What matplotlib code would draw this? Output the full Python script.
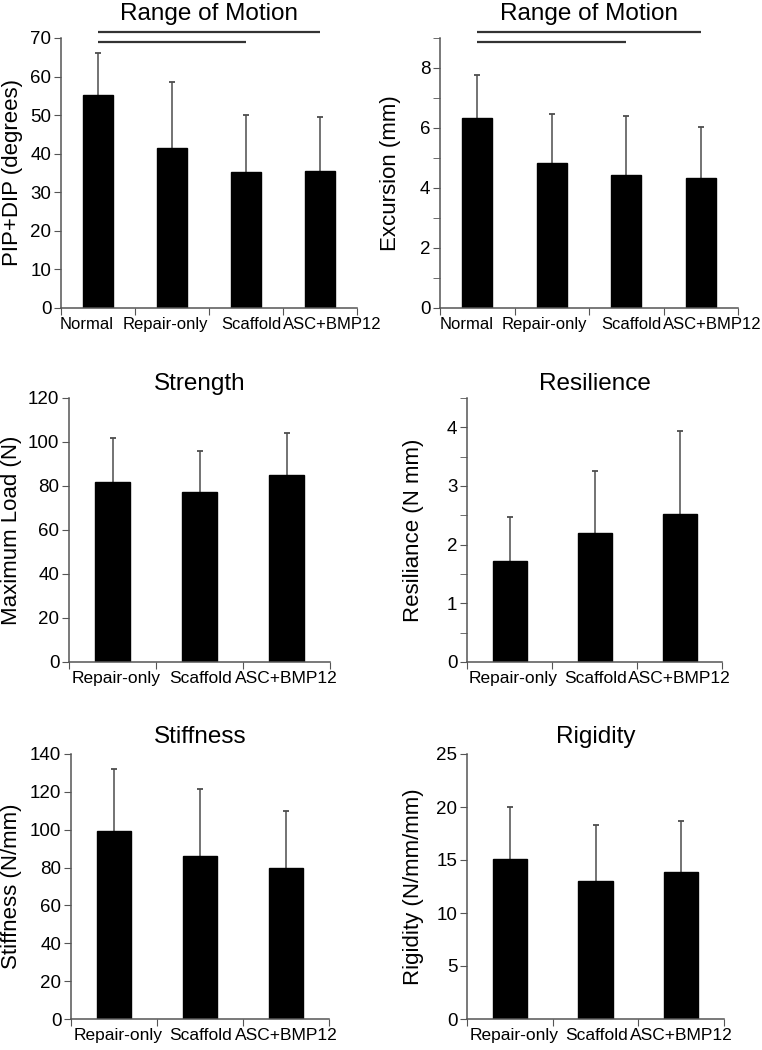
import matplotlib

matplotlib.use("Agg")

import matplotlib.pyplot as plt
from matplotlib.transforms import ScaledTranslation
from matplotlib.ticker import MultipleLocator


FIG_W = 762
FIG_H = 1050
DPI = 100

AXIS_GREY = "#555555"
ERR_GREY = "#4d4d4d"

rom_groups = ["Normal", "Repair-only", "Scaffold", "ASC+BMP12"]
treat_groups = ["Repair-only", "Scaffold", "ASC+BMP12"]

pip_dip_mean = [55.2, 41.4, 35.2, 35.6]
pip_dip_err = [10.8, 17.1, 14.8, 13.9]

excursion_mean = [6.35, 4.84, 4.42, 4.34]
excursion_err = [1.42, 1.62, 1.98, 1.70]

max_load_mean = [81.9, 77.4, 84.8]
max_load_err = [20.1, 18.6, 19.2]

resilience_mean = [1.72, 2.20, 2.53]
resilience_err = [0.76, 1.05, 1.41]

stiffness_mean = [99.3, 86.3, 79.9]
stiffness_err = [32.8, 35.2, 30.2]

rigidity_mean = [15.06, 13.0, 13.9]
rigidity_err = [4.9, 5.27, 4.78]

# significance brackets: (from group, to group, height in data units)
pip_dip_brackets = [(0, 3, 71.6), (0, 2, 69.0)]
excursion_brackets = [(0, 3, 9.2), (0, 2, 8.87)]

# horizontal nudges (pixels) so the crowded group names do not collide
rom_label_shift = [-11, -7, 5, 12]
treat_label_shift = [4, 1, 0]

plt.rcParams["font.family"] = ["Liberation Sans", "DejaVu Sans"]


def place_axes(fig, left, right, top, bottom):
	# pixel box -> figure fraction
	return fig.add_axes(
		[
			left / FIG_W,
			1 - bottom / FIG_H,
			(right - left) / FIG_W,
			(bottom - top) / FIG_H,
		]
	)


def bar_panel(
	ax,
	groups,
	means,
	errs,
	title,
	ylabel,
	ymax,
	major,
	minor=None,
	title_pad=6,
	label_x=-0.15,
	label_size=12,
	label_shift=None,
):
	positions = list(range(len(groups)))
	tops = [m + e for m, e in zip(means, errs)]

	ax.vlines(
		positions,
		means,
		tops,
		color=ERR_GREY,
		linewidth=1.1,
		zorder=1,
	)
	ax.plot(
		positions,
		tops,
		linestyle="none",
		marker="_",
		markersize=5,
		markeredgewidth=1.3,
		color=ERR_GREY,
		zorder=1,
	)

	ax.bar(
		positions,
		means,
		width=0.4,
		color="black",
		edgecolor="black",
		zorder=2,
	)

	ax.set_xlim(-0.5, len(groups) - 0.5)
	ax.set_ylim(0, ymax)

	ax.set_xticks([p - 0.5 for p in range(len(groups) + 1)])
	ax.set_xticklabels([])
	ax.tick_params(axis="x", which="major", length=5, color=AXIS_GREY, direction="out")

	# group names as text under each bar, nudged where they crowd
	if label_shift is None:
		label_shift = [0] * len(groups)
	for pos, name, dx in zip(positions, groups, label_shift):
		ax.text(
			pos,
			0,
			name,
			fontsize=label_size,
			ha="center",
			va="top",
			transform=ax.get_xaxis_transform()
			+ ScaledTranslation(dx / DPI, -9 / DPI, ax.figure.dpi_scale_trans),
		)

	ax.yaxis.set_major_locator(MultipleLocator(major))
	if minor is not None:
		ax.yaxis.set_minor_locator(MultipleLocator(minor))
		ax.tick_params(axis="y", which="minor", length=5, color=AXIS_GREY)
	ax.tick_params(
		axis="y",
		which="major",
		length=5,
		color=AXIS_GREY,
		labelsize=13.5,
		pad=2,
	)

	for side in ("top", "right"):
		ax.spines[side].set_visible(False)
	for side in ("left", "bottom"):
		ax.spines[side].set_color(AXIS_GREY)
		ax.spines[side].set_linewidth(1.1)

	ax.set_ylabel(ylabel, fontsize=16)
	ax.yaxis.set_label_coords(label_x, 0.5)
	ax.set_title(title, fontsize=17.5, pad=title_pad)


def draw_brackets(ax, brackets):
	for start, end, height in brackets:
		ax.plot(
			[start, end],
			[height, height],
			color="#333333",
			linewidth=1.6,
			clip_on=False,
			solid_capstyle="butt",
		)


fig = plt.figure(
	figsize=(FIG_W / DPI, FIG_H / DPI),
	dpi=DPI,
)

ax_rom = place_axes(fig, 61, 357, 38, 308)
bar_panel(
	ax_rom,
	rom_groups,
	pip_dip_mean,
	pip_dip_err,
	"Range of Motion",
	"PIP+DIP (degrees)",
	70,
	10,
	title_pad=13,
	label_x=-0.128,
	label_size=12,
	label_shift=rom_label_shift,
)
draw_brackets(ax_rom, pip_dip_brackets)

ax_exc = place_axes(fig, 440, 738, 38, 308)
bar_panel(
	ax_exc,
	rom_groups,
	excursion_mean,
	excursion_err,
	"Range of Motion",
	"Excursion (mm)",
	9,
	2,
	minor=1,
	title_pad=13,
	label_x=-0.131,
	label_size=12,
	label_shift=rom_label_shift,
)
draw_brackets(ax_exc, excursion_brackets)

ax_str = place_axes(fig, 69, 330, 398, 662)
bar_panel(
	ax_str,
	treat_groups,
	max_load_mean,
	max_load_err,
	"Strength",
	"Maximum Load (N)",
	120,
	20,
	title_pad=6,
	label_x=-0.18,
	label_size=12.5,
	label_shift=treat_label_shift,
)

ax_res = place_axes(fig, 467, 722, 398, 662)
bar_panel(
	ax_res,
	treat_groups,
	resilience_mean,
	resilience_err,
	"Resilience",
	"Resiliance (N mm)",
	4.5,
	1,
	minor=0.5,
	title_pad=6,
	label_x=-0.169,
	label_size=12.5,
	label_shift=treat_label_shift,
)

ax_stf = place_axes(fig, 71, 329, 754, 1019)
bar_panel(
	ax_stf,
	treat_groups,
	stiffness_mean,
	stiffness_err,
	"Stiffness",
	"Stiffness (N/mm)",
	140,
	20,
	title_pad=8,
	label_x=-0.19,
	label_size=12.5,
	label_shift=treat_label_shift,
)

ax_rig = place_axes(fig, 467, 724, 754, 1019)
bar_panel(
	ax_rig,
	treat_groups,
	rigidity_mean,
	rigidity_err,
	"Rigidity",
	"Rigidity (N/mm/mm)",
	25,
	5,
	title_pad=8,
	label_x=-0.167,
	label_size=12.5,
	label_shift=treat_label_shift,
)

fig.savefig("out.png", dpi=DPI)
